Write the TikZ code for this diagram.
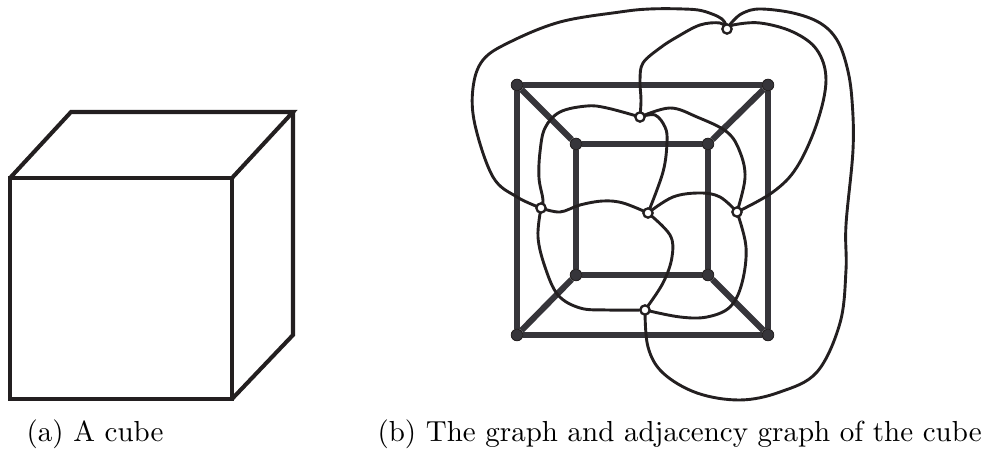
\documentclass[tikz,border=0pt]{standalone}
\usepackage{tikz}
\usetikzlibrary{backgrounds}
\definecolor{edgegray}{HTML}{36353A}
\definecolor{curveblack}{HTML}{231F20}

\begin{document}
\begin{tikzpicture}[x=0.345pt, y=-0.345pt,
  cubeline/.style={line width=1.4pt, curveblack, line join=miter},
  edge/.style={line width=2.1pt, edgegray},
  curve/.style={line width=1pt, curveblack, line cap=round},
  vertex/.style={circle, fill=edgegray, draw=curveblack, line width=0.3pt, inner sep=0pt, minimum size=4pt},
  dualvertex/.style={circle, fill=white, draw=curveblack, line width=0.8pt, inner sep=0pt, minimum size=3.2pt},
  caption/.style={font=\fontsize{10}{12}\selectfont, anchor=base west, inner sep=0pt}
]
\useasboundingbox (0,0) rectangle (993,451);

%% --- cube ---
\draw[cubeline] (10,178) rectangle (232,399);
\draw[cubeline] (10,178) -- (71,112) -- (293,112) -- (232,178);
\draw[cubeline] (293,112) -- (293,335) -- (232,399);

%% --- graph vertices, outer then inner ---
\node[vertex] (o1) at (517,85)  {};
\node[vertex] (o2) at (768,85)  {};
\node[vertex] (o3) at (768,335) {};
\node[vertex] (o4) at (517,335) {};
\node[vertex] (i1) at (576,144) {};
\node[vertex] (i2) at (708,144) {};
\node[vertex] (i3) at (708,275) {};
\node[vertex] (i4) at (576,275) {};

%% --- adjacency graph vertices ---
\node[dualvertex] (top)    at (727,29)  {};
\node[dualvertex] (upper)  at (640,117) {};
\node[dualvertex] (left)   at (541,208) {};
\node[dualvertex] (center) at (648,213) {};
\node[dualvertex] (right)  at (737,212) {};
\node[dualvertex] (bottom) at (645,310) {};

\begin{pgfonlayer}{background}
%% --- graph edges ---
\foreach \a/\b in {o1/o2, o2/o3, o3/o4, o4/o1, i1/i2, i2/i3, i3/i4, i4/i1, o1/i1, o2/i2, o3/i3, o4/i4}
  \draw[edge] (\a) -- (\b);

%% --- curves leaving the top vertex ---
\draw[curve] plot[smooth, tension=0.6] coordinates {(top) (722,19) (703,11) (683,9) (650,9) (620,12) (560,22)
  (510,42) (483,60) (473,88) (475,125) (493,177) (517,197) (left)};
\draw[curve] plot[smooth, tension=0.6] coordinates {(top) (733,21) (743,13) (760,9) (793,13) (820,23) (837,40)
  (847,67) (852,100) (853,150) (846,225) (846,270) (840,323) (817,372) (780,392) (740,400)
  (697,393) (663,373) (648,347) (bottom)};
\draw[curve] plot[smooth, tension=0.6] coordinates {(top) (720,23) (700,25) (677,37) (660,48) (643,63) (640,80)
  (641,100) (upper)};
\draw[curve] plot[smooth, tension=0.6] coordinates {(top) (733,25) (760,23) (793,32) (817,50) (826,80) (817,123)
  (797,167) (773,192) (right)};

%% --- curves leaving the upper vertex ---
\draw[curve] plot[smooth, tension=0.6] coordinates {(upper) (607,108) (587,106) (560,112) (545,128)
  (540,152) (539,178) (543,200) (left)};
\draw[curve] plot[smooth, tension=0.6] coordinates {(upper) (670,108) (697,117) (727,132) (740,152)
  (745,178) (right)};
\draw[curve] plot[smooth, tension=0.6] coordinates {(upper) (655,115) (665,127) (667,142) (663,172) (center)};

%% --- curves across the middle ---
\draw[curve] plot[smooth, tension=0.6] coordinates {(left) (560,212) (580,205) (603,201) (623,203) (center)};
\draw[curve] plot[smooth, tension=0.6] coordinates {(center) (673,197) (700,193) (720,197) (right)};

%% --- curves into the bottom vertex ---
\draw[curve] plot[smooth, tension=0.6] coordinates {(left) (538,237) (545,267) (558,295) (580,308)
  (607,310) (bottom)};
\draw[curve] plot[smooth, tension=0.6] coordinates {(center) (670,235) (672,257) (663,283) (bottom)};
\draw[curve] plot[smooth, tension=0.6] coordinates {(right) (746,247) (742,283) (730,307) (707,317)
  (680,317) (bottom)};
\end{pgfonlayer}

%% --- captions ---
\node[caption] (capa) at (26,442) {(a) A cube};
\node[caption] (capb) at (377,442) {(b) The graph and adjacency graph of the cube};

\end{tikzpicture}
\end{document}
